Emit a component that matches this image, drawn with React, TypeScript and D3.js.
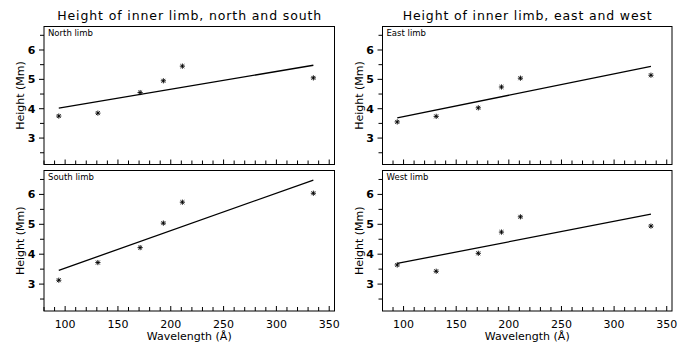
import React from "react";
import * as d3 from "d3";

const wavelengths = [94, 131, 171, 193, 211, 335];
const northHeights = [3.75, 3.85, 4.55, 4.95, 5.45, 5.05];
const southHeights = [3.13, 3.72, 4.22, 5.04, 5.74, 6.04];
const eastHeights = [3.55, 3.74, 4.03, 4.74, 5.04, 5.14];
const westHeights = [3.64, 3.43, 4.03, 4.74, 5.25, 4.94];
// fitted line values at first and last wavelength
const fitEnds = [94, 335];
const northFit = [4.02, 5.48];
const southFit = [3.46, 6.48];
const eastFit = [3.69, 5.44];
const westFit = [3.69, 5.34];

const xMajorTicks = [100, 150, 200, 250, 300, 350];
const yMajorTicks = [3, 4, 5, 6];
const titles = ["Height of inner limb, north and south", "Height of inner limb, east and west"];
const panelLabels = ["North limb", "South limb", "East limb", "West limb"];

const FONT = "'DejaVu Sans', sans-serif";

type PanelProps = {
  x0: number; x1: number; y0: number; y1: number;
  label: string; values: number[]; fit: number[]; showX: boolean;
};

function Panel({ x0, x1, y0, y1, label, values, fit, showX }: PanelProps) {
  const x = d3.scaleLinear().domain([80, 355]).range([x0, x1]);
  const y = d3.scaleLinear().domain([2.1, 6.8]).range([y1, y0]);
  const xMinor = d3.range(80, 356, 10);
  const yMinor = d3.range(2.5, 6.8, 0.5);
  const line = d3.line<number>().x((_, i) => x(fitEnds[i])).y((d) => y(d));
  const s = 2.6;
  return (
    <g>
      <rect x={x0} y={y0} width={x1 - x0} height={y1 - y0} fill="none" stroke="#000" strokeWidth={1} />
      {xMinor.map((t) => {
        const major = t % 50 === 0;
        return (
          <line key={"xt" + t} x1={x(t)} x2={x(t)} y1={y1} y2={y1 - (major ? 5 : 4)} stroke="#000" strokeWidth={1} />
        );
      })}
      {yMinor.map((t) => {
        const major = Math.abs(t - Math.round(t)) < 1e-6;
        return (
          <line key={"yt" + t} x1={x0} x2={x0 - (major ? 5 : 4)} y1={y(t)} y2={y(t)} stroke="#000" strokeWidth={1} />
        );
      })}
      {yMajorTicks.map((t) => (
        <text key={"yl" + t} x={x0 - 12.5} y={y(t) + 4} fontSize={11} fontFamily={FONT} fontWeight="bold" textAnchor="middle">{t}</text>
      ))}
      {showX && xMajorTicks.map((t) => (
        <text key={"xl" + t} x={x(t)} y={y1 + 17} fontSize={11} fontFamily={FONT} textAnchor="middle">{t}</text>
      ))}
      <text x={x0 + 4} y={y0 + 9.5} fontSize={8.5} fontFamily={FONT}>{label}</text>
      <text transform={`translate(${x0 - 20},${(y0 + y1) / 2}) rotate(-90)`} fontSize={11} fontFamily={FONT} textAnchor="middle">Height (Mm)</text>
      <path d={line(fit) || ""} fill="none" stroke="#000" strokeWidth={1.3} />
      {wavelengths.map((w, i) => {
        const cx = x(w);
        const cy = y(values[i]);
        return (
          <g key={"p" + i} stroke="#000" strokeWidth={0.9}>
            <line x1={cx - s} x2={cx + s} y1={cy} y2={cy} />
            <line x1={cx} x2={cx} y1={cy - s} y2={cy + s} />
            <line x1={cx - s * 0.75} x2={cx + s * 0.75} y1={cy - s * 0.75} y2={cy + s * 0.75} />
            <line x1={cx - s * 0.75} x2={cx + s * 0.75} y1={cy + s * 0.75} y2={cy - s * 0.75} />
          </g>
        );
      })}
      {showX && (
        <text x={(x0 + x1) / 2} y={y1 + 29} fontSize={11} fontFamily={FONT} textAnchor="middle">Wavelength (Å)</text>
      )}
    </g>
  );
}

export default function App() {
  const cols = [
    { x0: 44, x1: 334.5 },
    { x0: 382.5, x1: 672 },
  ];
  const rows = [
    { y0: 26.5, y1: 164.5 },
    { y0: 170.5, y1: 311 },
  ];
  const vals = [northHeights, southHeights, eastHeights, westHeights];
  const fits = [northFit, southFit, eastFit, westFit];
  const titleWidths = [264, 249];
  return (
    <svg width={679} height={343} style={{ position: "absolute", left: 0, top: 0, background: "#fff" }}>
      <rect x={0} y={0} width={679} height={343} fill="#fff" />
      {cols.map((c, ci) => (
        <g key={"c" + ci}>
          <text x={(c.x0 + c.x1) / 2} y={19.5} fontSize={12.5} fontFamily={FONT} textAnchor="middle"
            textLength={titleWidths[ci]} lengthAdjust="spacing">{titles[ci]}</text>
          {rows.map((r, ri) => {
            const k = ci * 2 + ri;
            return (
              <Panel key={"p" + k} x0={c.x0} x1={c.x1} y0={r.y0} y1={r.y1}
                label={panelLabels[k]} values={vals[k]} fit={fits[k]} showX={ri === 1} />
            );
          })}
        </g>
      ))}
    </svg>
  );
}
